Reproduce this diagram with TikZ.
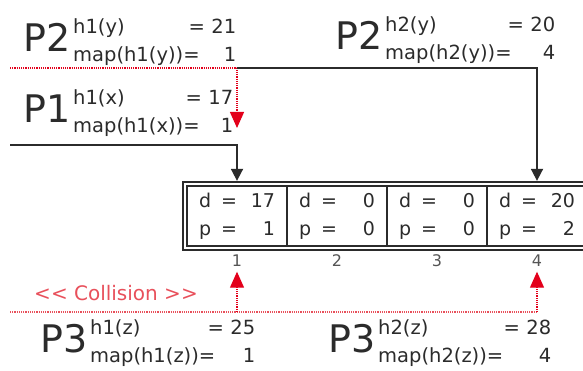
\documentclass[tikz,border=0pt]{standalone}
\usepackage{fontspec}
\usepackage{tikz}
\usetikzlibrary{arrows.meta,positioning,fit}
\newfontfamily\dv{DejaVu Sans}
\definecolor{texte}{HTML}{2B2B2B}
\definecolor{gris}{HTML}{555555}
\definecolor{rouge}{HTML}{E3001B}
\definecolor{rougeclair}{HTML}{E8505B}
\tikzset{
  grand/.style={font=\dv\fontsize{38}{38}\selectfont,inner sep=0pt,anchor=base west,text=texte},
  etiq/.style={font=\dv\fontsize{19.5}{29}\selectfont,inner sep=0pt,anchor=base west,align=left,text=texte},
  case/.style={draw=texte,line width=1.3pt,minimum width=100pt,minimum height=60pt,inner sep=0pt,
               text width=76pt,align=left,font=\dv\fontsize{19}{28}\selectfont,text=texte},
  cadre/.style={draw=texte,line width=2pt,inner sep=3.5pt},
  indice/.style={font=\dv\fontsize{16}{16}\selectfont,text=gris,inner sep=1pt},
  fleche/.style={-{Triangle[length=12pt,width=12pt]},line width=1.8pt,draw=texte,shorten >=4.5pt},
  pointille/.style={draw=rougeclair,line width=1.2pt,densely dotted},
  flecherouge/.style={pointille,-{Triangle[length=16pt,width=14pt]},color=rouge},
}

\begin{document}
\begin{tikzpicture}[x=1pt,y=-1pt]
  \useasboundingbox (0,0) rectangle (583,371);
  % hash values of each key
  \foreach \n/\x/\y/\P/\w/\h/\v/\m in {p2a/23/52/P2/163/h1(y)/21/1,p2b/335/50/P2/170/h2(y)/20/4,
      p1/23/123/P1/160/h1(x)/17/1,p3a/40/352/P3/165/h1(z)/25/1,p3b/328/352/P3/173/h2(z)/28/4}{
    \node[grand] (\n) at (\x,\y) {\P};
    \node[etiq,text width=\w pt] (\n-h) at (\x+50,\y-18) {\h\hfill= \v};
    \node[etiq,text width=\w pt] (\n-m) at (\x+50,\y+10) {map(\h)=\hfill \m\hspace{4pt}};
  }
  % the table
  \foreach \i/\d/\p in {1/17/1,2/0/0,3/0/0,4/20/2}{
    \node[case] (c\i) at (137+100*\i,216) {d\hspace{10pt}=\hfill \d\\p\hspace{10pt}=\hfill \p};
    \node[indice,below=7pt of c\i] (i\i) {\i};
  }
  \node[cadre,fit=(c1)(c4)] (tab) {};
  % insertions
  \coordinate (r) at (10,68);
  \coordinate (rf) at (237,128);
  \coordinate (k) at (237,68);
  \coordinate (m) at (10,145);
  \draw[flecherouge] (r) -| (rf);
  \draw[fleche] (k) -| (c4);
  \draw[fleche] (m) -| (c1);
  % collision of P3
  \coordinate (g) at (10,312);
  \coordinate (b1) at (237,312);
  \coordinate (b4) at (537,312);
  \draw[pointille] (g) -- (b4);
  \draw[flecherouge,shorten >=4pt] (b1) -- (i1);
  \draw[flecherouge,shorten >=4pt] (b4) -- (i4);
  \node[font=\dv\fontsize{20}{20}\selectfont,text=rougeclair] (coll) at (116,293) {<< Collision >>};
\end{tikzpicture}
\end{document}
